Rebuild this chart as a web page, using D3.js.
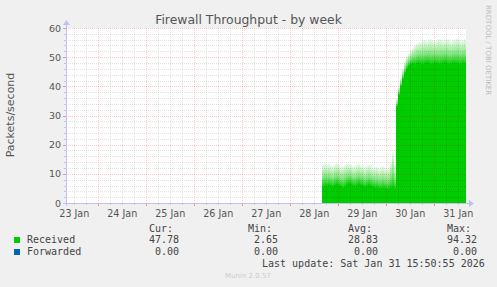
<!DOCTYPE html>
<html>
<head>
<meta charset="utf-8">
<script src="https://cdn.jsdelivr.net/npm/d3@7"></script>
<style>
  body { margin: 0; background: #f0f0f0; }
  svg { display: block; }
</style>
</head>
<body>
<div id="chart"></div>
<script>
// read in the data
var title = "Firewall Throughput - by week";
var yLabel = "Packets/second";
var dayTicks = ["23 Jan","24 Jan","25 Jan","26 Jan","27 Jan","28 Jan","29 Jan","30 Jan","31 Jan"];
var yTicks = [0, 10, 20, 30, 40, 50, 60];
var firstSample = "2026-01-28T16:00:00";   // hourly samples from here on
// solid part of the received area (packets/s)
var receivedLow = [5.5,6,5.8,6.2,5.9,5.5,6.1,6.4,6,5.7,5.2,5.6,6.3,6.8,6.5,6,5.8,6.2,6.6,6.1,5.9,5.4,5.8,6.2,5.9,5.5,5.1,5.3,5.0,4.8,5.2,5.0,4.7,4.9,5.3,5.5,4.8,
  33,37,40,42.5,44.5,46,47,47.5,47.8,47.6,47.9,48.1,47.7,47.5,47.9,48.2,48,47.6,47.8,48.1,47.9,47.5,47.7,48,48.2,47.9,47.6,47.8,48,48.1,47.9,47.6,47.8,48,47.78];
// peaks inside each hour (the faded top)
var receivedPeak = [13.5,13.8,13.2,13.6,13.0,12.8,13.4,13.7,13.1,12.6,12.9,13.3,13.8,13.5,13.2,12.7,13.0,13.4,13.6,13.1,12.8,12.5,13.0,13.3,12.9,12.4,12.2,12.6,12.0,12.3,12.8,12.1,11.8,12.4,14.5,17.5,13.0,
  36,40,43,46,48.5,50.5,51.5,52.5,53.5,54.2,54.8,55.2,55.5,55.8,56,55.7,56.1,56.3,55.9,55.6,56,56.4,56.2,55.8,56,56.3,56.1,55.7,55.9,56.2,56.5,56.1,55.8,56,56.3];
var legendNames = ["Received", "Forwarded"];
var legendColors = ["#00cc00", "#0066b3"];
var statHeads = ["Cur:", "Min:", "Avg:", "Max:"];
var receivedStats = ["47.78", "2.65", "28.83", "94.32"];
var forwardedStats = ["0.00", "0.00", "0.00", "0.00"];
var lastUpdate = "Last update: Sat Jan 31 15:50:55 2026";

var W = 497, H = 287;
var margin = {left: 66, top: 28, right: 31, bottom: 84};
var width = 400, height = 175;

var end = new Date("2026-01-31T15:50:55");
var start = new Date(end.getTime() - 200 * 3600 * 1000);
var t0 = new Date(firstSample);

var data = receivedLow.map(function(v, i) {
  return {t: new Date(t0.getTime() + i * 3600 * 1000), lo: v, hi: receivedPeak[i]};
});

var x = d3.scaleTime().domain([start, end]).range([0, width]);
var y = d3.scaleLinear().domain([0, 60]).range([height, 0]);

var svg = d3.select("#chart").append("svg")
    .attr("width", W)
    .attr("height", H)
    .style("font-family", "'DejaVu Sans', sans-serif");

svg.append("rect").attr("width", W).attr("height", H).attr("fill", "#f0f0f0");

var defs = svg.append("defs");
var grad = defs.append("linearGradient").attr("id", "fade")
    .attr("x1", 0).attr("y1", 1).attr("x2", 0).attr("y2", 0);
grad.append("stop").attr("offset", "0%").attr("stop-color", "#00cc00").attr("stop-opacity", 0.95);
grad.append("stop").attr("offset", "40%").attr("stop-color", "#00cc00").attr("stop-opacity", 0.5);
grad.append("stop").attr("offset", "100%").attr("stop-color", "#00cc00").attr("stop-opacity", 0.05);

var g = svg.append("g")
    .attr("transform", "translate(" + margin.left + "," + margin.top + ")");

g.append("rect").attr("width", width).attr("height", height).attr("fill", "#fff");

// solid area
var pts = data.concat([{t: end, lo: data[data.length - 1].lo, hi: data[data.length - 1].hi}]);
g.append("path")
    .datum(pts)
    .attr("fill", "#00cc00")
    .attr("shape-rendering", "crispEdges")
    .attr("d", d3.area()
      .curve(d3.curveStepAfter)
      .x(function(d) { return x(d.t); })
      .y0(y(0))
      .y1(function(d) { return y(d.lo); }));

// faded peaks
g.selectAll(".peak")
    .data(data)
  .enter().append("rect")
    .attr("class", "peak")
    .attr("shape-rendering", "crispEdges")
    .attr("x", function(d) { return x(d.t); })
    .attr("width", function(d) {
      var t1 = new Date(Math.min(d.t.getTime() + 3600 * 1000, end.getTime()));
      return x(t1) - x(d.t);
    })
    .attr("y", function(d) { return y(d.hi); })
    .attr("height", function(d) { return y(d.lo) - y(d.hi); })
    .attr("fill", "url(#fade)");

// grid on top
var minorCol = "rgba(0,0,0,0.11)", majorCol = "rgba(255,0,0,0.22)";
var minorY = d3.range(0, 61, 2).filter(function(v) { return v % 10; });
g.selectAll(".ymin").data(minorY).enter().append("line")
    .attr("x1", 0).attr("x2", width)
    .attr("y1", function(d) { return Math.round(y(d)) + 0.5; })
    .attr("y2", function(d) { return Math.round(y(d)) + 0.5; })
    .attr("stroke", minorCol).attr("stroke-dasharray", "1,1");
var hours6 = d3.timeHour.every(6).range(start, end).filter(function(d) { return d.getHours() != 0; });
g.selectAll(".xmin").data(hours6).enter().append("line")
    .attr("y1", 0).attr("y2", height)
    .attr("x1", function(d) { return Math.round(x(d)) + 0.5; })
    .attr("x2", function(d) { return Math.round(x(d)) + 0.5; })
    .attr("stroke", minorCol).attr("stroke-dasharray", "1,1");
g.selectAll(".ymaj").data(yTicks.slice(1)).enter().append("line")
    .attr("x1", 0).attr("x2", width)
    .attr("y1", function(d) { return Math.round(y(d)) + 0.5; })
    .attr("y2", function(d) { return Math.round(y(d)) + 0.5; })
    .attr("stroke", majorCol).attr("stroke-dasharray", "1,1");
var days = d3.timeDay.range(start, end);
g.selectAll(".xmaj").data(days).enter().append("line")
    .attr("y1", 0).attr("y2", height)
    .attr("x1", function(d) { return Math.round(x(d)) + 0.5; })
    .attr("x2", function(d) { return Math.round(x(d)) + 0.5; })
    .attr("stroke", majorCol).attr("stroke-dasharray", "1,1");

// axis ticks
g.selectAll(".xt6").data(hours6).enter().append("line")
    .attr("y1", height).attr("y2", height + 2)
    .attr("x1", function(d) { return Math.round(x(d)) + 0.5; })
    .attr("x2", function(d) { return Math.round(x(d)) + 0.5; })
    .attr("stroke", "#c8c8c8");
g.selectAll(".xtd").data(days).enter().append("line")
    .attr("y1", height).attr("y2", height + 3)
    .attr("x1", function(d) { return Math.round(x(d)) + 0.5; })
    .attr("x2", function(d) { return Math.round(x(d)) + 0.5; })
    .attr("stroke", "#f09090");
g.selectAll(".ytm").data(minorY).enter().append("line")
    .attr("x1", -2).attr("x2", 0)
    .attr("y1", function(d) { return Math.round(y(d)) + 0.5; })
    .attr("y2", function(d) { return Math.round(y(d)) + 0.5; })
    .attr("stroke", "#c8c8c8");
g.selectAll(".ytj").data(yTicks).enter().append("line")
    .attr("x1", -3).attr("x2", 0)
    .attr("y1", function(d) { return Math.round(y(d)) + 0.5; })
    .attr("y2", function(d) { return Math.round(y(d)) + 0.5; })
    .attr("stroke", "#f09090");

// axes with arrows
var axisCol = "#c0c0f4";
g.append("line").attr("x1", -3).attr("x2", width + 4)
    .attr("y1", height + 0.5).attr("y2", height + 0.5).attr("stroke", axisCol);
g.append("path").attr("d", "M" + (width + 3) + "," + (height - 3) + "L" + (width + 8) + "," + (height + 0.5) + "L" + (width + 3) + "," + (height + 4) + "Z")
    .attr("fill", axisCol);
g.append("line").attr("x1", 0.5).attr("x2", 0.5)
    .attr("y1", height + 3).attr("y2", -4).attr("stroke", axisCol);
g.append("path").attr("d", "M-3,-3L0.5,-8L4,-3Z").attr("fill", axisCol);

// tick labels
g.selectAll(".ylab").data(yTicks).enter().append("text")
    .attr("x", -5)
    .attr("y", function(d) { return y(d) + 3.5; })
    .attr("text-anchor", "end")
    .attr("font-size", "9.5px")
    .attr("fill", "#555")
    .text(function(d) { return d; });
g.selectAll(".xlab").data(dayTicks).enter().append("text")
    .attr("x", function(d, i) { return x(d3.timeHour.offset(days[0], -12 + 24 * i)); })
    .attr("y", height + 13.5)
    .attr("text-anchor", "middle")
    .attr("font-size", "9.6px")
    .attr("fill", "#555")
    .text(function(d) { return d; });

// titles
svg.append("text")
    .attr("x", W / 2).attr("y", 23.5)
    .attr("text-anchor", "middle")
    .attr("font-size", "12.4px")
    .attr("fill", "#555")
    .text(title);
svg.append("text")
    .attr("transform", "translate(14,115) rotate(-90)")
    .attr("text-anchor", "middle")
    .attr("font-size", "11px")
    .attr("fill", "#555")
    .text(yLabel);
svg.append("text")
    .attr("transform", "translate(486,5) rotate(90)")
    .attr("font-size", "7px")
    .attr("fill", "#bbb")
    .text("RRDTOOL / TOBI OETIKER");

// legend
var mono = "'DejaVu Sans Mono', monospace";
var headX = [149, 248, 348, 447];
var valX = [179, 278, 378, 477];
svg.selectAll(".head").data(statHeads).enter().append("text")
    .attr("x", function(d, i) { return headX[i]; })
    .attr("y", 232)
    .attr("font-family", mono).attr("font-size", "10px").attr("fill", "#444")
    .text(function(d) { return d; });
[receivedStats, forwardedStats].forEach(function(stats, r) {
  var yy = 243 + 12 * r;
  svg.append("rect").attr("x", 14).attr("y", yy - 6).attr("width", 6).attr("height", 6)
      .attr("fill", legendColors[r]);
  svg.append("text").attr("x", 27).attr("y", yy)
      .attr("font-family", mono).attr("font-size", "10px").attr("fill", "#444")
      .text(legendNames[r]);
  svg.selectAll(".v" + r).data(stats).enter().append("text")
      .attr("x", function(d, i) { return valX[i]; })
      .attr("y", yy)
      .attr("text-anchor", "end")
      .attr("font-family", mono).attr("font-size", "10px").attr("fill", "#444")
      .text(function(d) { return d; });
});
svg.append("text").attr("x", 262).attr("y", 266.5)
    .attr("font-family", mono).attr("font-size", "10px").attr("fill", "#444")
    .text(lastUpdate);
svg.append("text").attr("x", 248).attr("y", 278)
    .attr("text-anchor", "middle")
    .attr("font-size", "7px").attr("fill", "#ccc")
    .text("Munin 2.0.57");
</script>
</body>
</html>
